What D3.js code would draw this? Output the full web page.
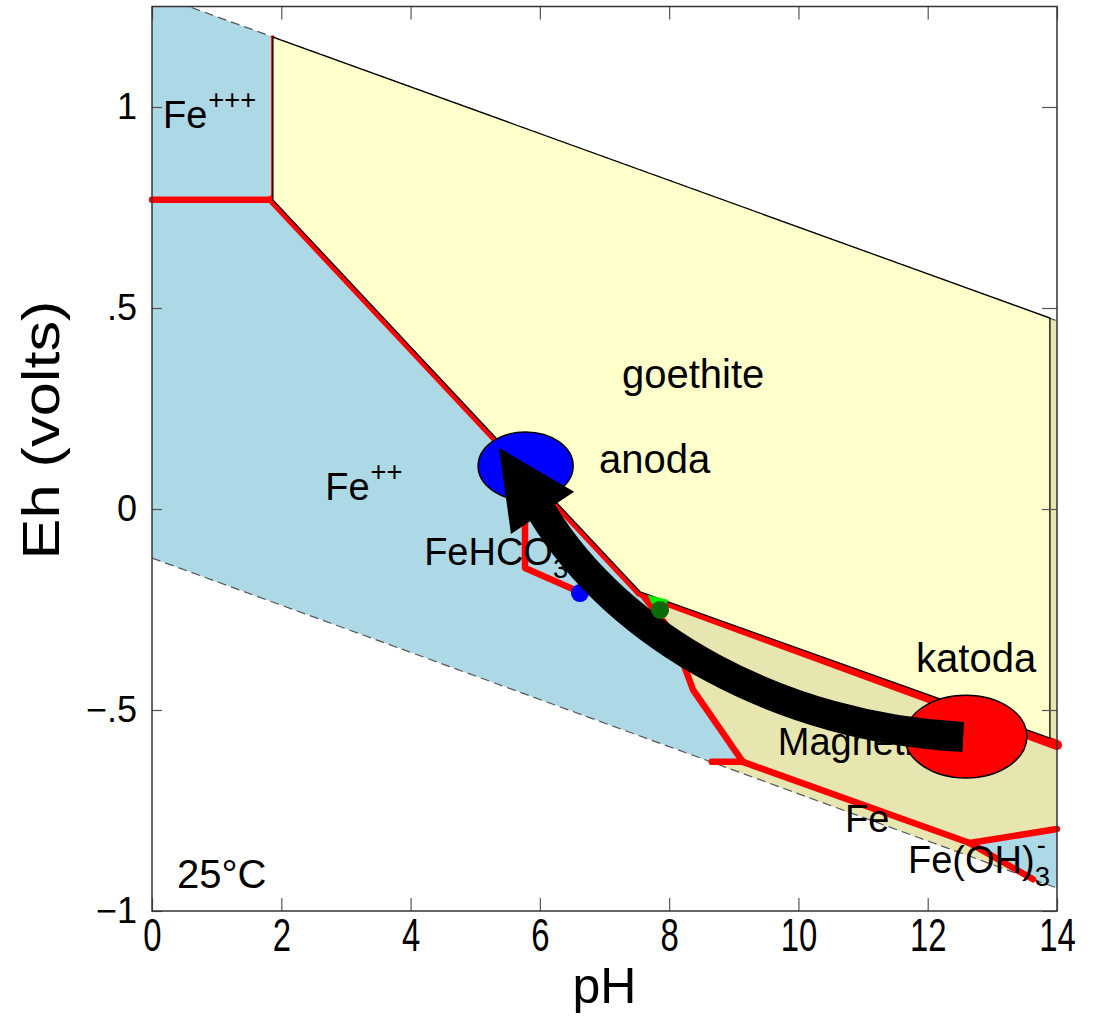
<!DOCTYPE html>
<html><head><meta charset="utf-8">
<script src="https://cdn.jsdelivr.net/npm/d3@7"></script>
<style>
html,body{margin:0;padding:0;background:#fff;}
svg{display:block;}
text{font-family:"Liberation Sans",Arial,Helvetica,sans-serif;fill:#000;}
</style></head><body>
<svg id="chart" width="1093" height="1016"></svg>
<script>
// ---------- data (pH, Eh in volts) ----------
const pHTicks = [0, 2, 4, 6, 8, 10, 12, 14];
const pHTickLabels = ["0", "2", "4", "6", "8", "10", "12", "14"];
const ehTicks = [-1, -0.5, 0, 0.5, 1];
const ehTickLabels = ["\u22121", "\u2212.5", "0", ".5", "1"];

const upperWaterLine = [[0, 1.283], [14, 0.468]];
const lowerWaterLine = [[0, -0.122], [14, -0.943]];
const aqueousField = [[0, 1.283], [14, 0.468], [14, -0.943], [0, -0.122]];
const mineralField = [[1.87, 0.769], [1.87, 1.174], [14, 0.468], [14, -0.587], [14, -0.796],
  [12.65, -0.831], [13.63, -0.921], [8.66, -0.630], [9.14, -0.629], [8.37, -0.450],
  [8.04, -0.306], [7.55, -0.206]];
const goethiteOverlay = [[1.87, 1.174], [13.89, 0.475], [13.89, -0.570], [7.55, -0.206], [1.87, 0.769]];
const sideritePatch = [[7.67, -0.214], [7.98, -0.226], [7.95, -0.244], [7.73, -0.236]];

const boundaryFe3Fe2 = [[0, 0.769], [1.87, 0.769]];
const boundaryFe3Goethite = [[1.87, 0.769], [1.87, 1.174]];
const boundaryFe2Goethite = [[1.87, 0.769], [7.55, -0.206]];
const boundaryGoethiteMagnetite = [[7.55, -0.206], [14, -0.587]];
const boundaryFe2Magnetite = [[7.55, -0.206], [8.04, -0.306], [8.37, -0.450], [9.14, -0.629]];
const boundaryFe2Fe = [[8.66, -0.629], [9.14, -0.629]];
const boundaryMagnetiteFe = [[9.14, -0.629], [12.65, -0.831]];
const boundaryMagnetiteFeOH3 = [[12.65, -0.831], [14, -0.796]];
const boundaryFeFeOH3 = [[12.65, -0.831], [13.63, -0.921]];
const boundaryFeHCO3 = [[5.77, 0.097], [5.77, -0.147], [6.65, -0.209]];

const blueDot = [{pH: 6.62, eh: -0.209, color: "#0000ff"}];
const greenDot = [{pH: 7.86, eh: -0.251, color: "#0b6b0b"}];

const phaseLabels = [
  {text: "Fe", sup: "+++", pH: 0.17, eh: 0.948},
  {text: "Fe", sup: "++", pH: 2.68, eh: 0.022},
  {text: "FeHCO", sub: "3", sup: "+", pH: 4.21, eh: -0.139},
  {text: "Magnetite", pH: 9.68, eh: -0.612},
  {text: "Fe", pH: 10.72, eh: -0.803},
  {text: "Fe(OH)", sub: "3", sup: "-", pH: 11.695, eh: -0.905}
];
const annotationLabels = [
  {text: "goethite", pH: 7.27, eh: 0.301},
  {text: "anoda", pH: 6.915, eh: 0.0896},
  {text: "katoda", pH: 11.82, eh: -0.405},
  {text: "25\u00B0C", pH: 0.387, eh: -0.943}
];
const electrodes = [
  {name: "anoda", pH: 5.78, eh: 0.107, rpH: 0.735, rEh: 0.0846, color: "#0000ff"},
  {name: "katoda", pH: 12.59, eh: -0.566, rpH: 0.944, rEh: 0.103, color: "#ff0000"}
];
// arrow: cubic curve (tail, control 1, control 2, head base) and tip
const arrowCurve = [[12.55, -0.567], [9.761, -0.5448], [7.209, -0.3209], [6.033, -0.0075]];
const arrowTip = [5.368, 0.152];

// ---------- scales ----------
const svg = d3.select("#chart");
const x = d3.scaleLinear().domain([0, 14]).range([152, 1057]);
const y = d3.scaleLinear().domain([-1, 1.25]).range([911, 6.5]);
const line = d3.line().x(d => x(d[0])).y(d => y(d[1]));
const poly = pts => line(pts) + "Z";

svg.append("defs").append("clipPath").attr("id", "plotClip")
  .append("rect").attr("x", x(0)).attr("y", y(1.25))
  .attr("width", x(14) - x(0)).attr("height", y(-1) - y(1.25));

const fields = svg.append("g").attr("clip-path", "url(#plotClip)");
fields.append("path").attr("d", poly(aqueousField)).attr("fill", "#add8e6");
fields.append("path").attr("d", poly(mineralField)).attr("fill", "#e8e6b0");
[upperWaterLine, lowerWaterLine].forEach(l => {
  fields.append("path").attr("d", line(l)).attr("fill", "none")
    .attr("stroke", "#555").attr("stroke-width", 1.2).attr("stroke-dasharray", "9,5");
});

// red boundaries
const red = svg.append("g");
const drawRed = (b, w) => red.append("path").attr("d", line(b)).attr("fill", "none")
  .attr("stroke", "#ff0000").attr("stroke-width", w)
  .attr("stroke-linecap", "round").attr("stroke-linejoin", "round");
[boundaryFe3Fe2, boundaryFe2Magnetite, boundaryFe2Fe, boundaryMagnetiteFe,
  boundaryMagnetiteFeOH3, boundaryFeFeOH3, boundaryFeHCO3].forEach(b => drawRed(b, 6.5));
[boundaryFe2Goethite, boundaryGoethiteMagnetite].forEach(b => drawRed(b, 10));
drawRed(boundaryFe3Goethite, 3.5);

// goethite overlay
svg.append("path").attr("d", poly(goethiteOverlay)).attr("fill", "#ffffcc")
  .attr("stroke", "#000").attr("stroke-width", 1.3).attr("stroke-linejoin", "miter");

const dotLayer = g => g.selectAll("circle").data(g.datum()).join("circle")
  .attr("cx", d => x(d.pH)).attr("cy", d => y(d.eh)).attr("r", 9).attr("fill", d => d.color);
svg.append("g").datum(blueDot).call(dotLayer);

// phase labels
function label(g, d, size) {
  const t = g.append("text").attr("x", x(d.pH)).attr("y", y(d.eh))
    .attr("font-size", size).text(d.text);
  const w = t.node().getComputedTextLength();
  if (d.sub) g.append("text").attr("x", x(d.pH) + w).attr("y", y(d.eh) + 13)
    .attr("font-size", size * 0.72).text(d.sub);
  if (d.sup) g.append("text").attr("x", x(d.pH) + w + (d.sub ? 2 : 1)).attr("y", y(d.eh) - 19)
    .attr("font-size", size * 0.72).text(d.sup);
}
const lab = svg.append("g");
phaseLabels.forEach(d => label(lab, d, 38));

// electrodes
svg.selectAll("ellipse").data(electrodes).join("ellipse")
  .attr("cx", d => x(d.pH)).attr("cy", d => y(d.eh))
  .attr("rx", d => x(d.pH + d.rpH) - x(d.pH)).attr("ry", d => y(d.eh - d.rEh) - y(d.eh))
  .attr("fill", d => d.color).attr("stroke", "#000").attr("stroke-width", 1.5);

// arrow
const P = arrowCurve.map(p => [x(p[0]), y(p[1])]);
svg.append("path")
  .attr("d", `M${P[0]} C${P[1]} ${P[2]} ${P[3]}`)
  .attr("fill", "none").attr("stroke", "#000").attr("stroke-width", 30);
const T = [x(arrowTip[0]), y(arrowTip[1])];
const dx = T[0] - P[3][0], dy = T[1] - P[3][1], len = Math.hypot(dx, dy);
const nx = -dy / len * 38, ny = dx / len * 38;
const bx = P[3][0] - dx / len * 1, by = P[3][1] - dy / len * 1;
svg.append("path")
  .attr("d", `M${T[0]},${T[1]} L${bx + nx},${by + ny} L${bx - nx},${by - ny} Z`)
  .attr("fill", "#000");

// siderite sliver and green dot sit beside the arrow
svg.append("path").attr("d", poly(sideritePatch)).attr("fill", "#00ee00");
svg.append("g").datum(greenDot).call(dotLayer);

// annotation labels
annotationLabels.forEach(d => label(svg.append("g"), d, 40));

// ---------- axes & frame ----------
const tickStyle = g => {
  g.select(".domain").remove();
  g.selectAll(".tick line").attr("stroke", "#555").attr("stroke-width", 1.2);
};
svg.append("g").attr("transform", `translate(0,${y(-1)})`)
  .call(d3.axisBottom(x).tickValues(pHTicks).tickFormat((d, i) => pHTickLabels[i])
    .tickSizeInner(-13).tickSizeOuter(0).tickPadding(7))
  .call(tickStyle)
  .call(g => g.selectAll("text").attr("font-size", 47).attr("fill", "#000")
    .attr("font-family", "Liberation Sans, Arial, sans-serif")
    .attr("transform", "scale(0.7,1)"));
svg.append("g").attr("transform", `translate(0,${y(1.25)})`)
  .call(d3.axisTop(x).tickValues(pHTicks).tickFormat("").tickSizeInner(-13).tickSizeOuter(0))
  .call(tickStyle);
svg.append("g").attr("transform", `translate(${x(0)},0)`)
  .call(d3.axisLeft(y).tickValues(ehTicks).tickFormat((d, i) => ehTickLabels[i])
    .tickSizeInner(-10).tickSizeOuter(0).tickPadding(15))
  .call(tickStyle)
  .call(g => g.selectAll("text").attr("font-size", 36).attr("fill", "#000")
    .attr("font-family", "Liberation Sans, Arial, sans-serif"));
svg.append("g").attr("transform", `translate(${x(14)},0)`)
  .call(d3.axisRight(y).tickValues(ehTicks).tickFormat("").tickSizeInner(-15).tickSizeOuter(0))
  .call(tickStyle);

svg.append("rect").attr("x", x(0)).attr("y", y(1.25))
  .attr("width", x(14) - x(0)).attr("height", y(-1) - y(1.25))
  .attr("fill", "none").attr("stroke", "#333").attr("stroke-width", 1.5);

svg.append("text").attr("x", (x(0) + x(14)) / 2).attr("y", 1003)
  .attr("text-anchor", "middle").attr("font-size", 50).text("pH");
svg.append("text").attr("transform", `translate(59,430) rotate(-90) scale(1.18,1)`)
  .attr("text-anchor", "middle").attr("font-size", 52).text("Eh (volts)");
</script>
</body></html>
